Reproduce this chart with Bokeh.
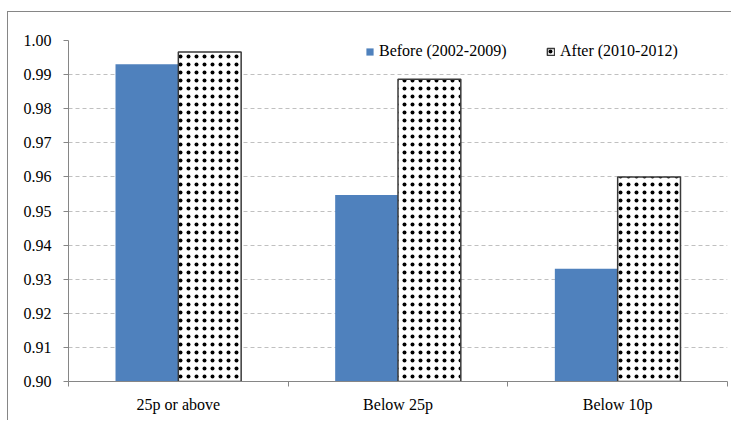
from bokeh.plotting import figure
from bokeh.models import (ColumnDataSource, Range1d, FixedTicker,
                          NumeralTickFormatter, Legend, LegendItem)
from bokeh.transform import dodge
from bokeh.embed import file_html
from bokeh.resources import INLINE

# Chart data
categories = ["25p or above", "Below 25p", "Below 10p"]
before = [0.9930, 0.9547, 0.9331]
after = [0.9966, 0.9886, 0.9600]
series_labels = ["Before (2002-2009)", "After (2010-2012)"]
y_ticks = [0.90, 0.91, 0.92, 0.93, 0.94, 0.95, 0.96, 0.97, 0.98, 0.99, 1.00]

FONT = "Liberation Serif"
AXIS_GREY = "#868686"

# category centres on a numeric axis, one unit per category
centres = [i + 0.5 for i in range(len(categories))]
bounds = list(range(len(categories) + 1))
source = ColumnDataSource(dict(x=centres, before=before, after=after))

p = figure(width=724, height=409,
           x_range=Range1d(0, len(categories)), y_range=Range1d(0.90, 1.00),
           output_backend="svg", toolbar_location=None,
           min_border_left=60, min_border_right=5,
           min_border_top=28, min_border_bottom=40,
           margin=(11, 0, 0, 7),
           styles={"border-left": f"1px solid {AXIS_GREY}",
                   "border-top": f"1px solid {AXIS_GREY}"})
p.outline_line_color = None
p.background_fill_color = "white"
p.border_fill_color = "white"

bar_w = 0.286
r_before = p.vbar(x=dodge("x", -bar_w / 2), top="before", bottom=0.90, width=bar_w,
                  source=source, fill_color="#4F81BD", line_color=None)
r_after = p.vbar(x=dodge("x", bar_w / 2), top="after", bottom=0.90, width=bar_w,
                 source=source, fill_color="white", line_color="#3a3a3a", line_width=1.5,
                 hatch_pattern="dot", hatch_color="black", hatch_scale=8,
                 hatch_weight=0.2)

# y axis
yax = p.yaxis[0]
yax.ticker = FixedTicker(ticks=y_ticks)
yax.formatter = NumeralTickFormatter(format="0.00")
yax.axis_line_color = AXIS_GREY
yax.major_tick_line_color = AXIS_GREY
yax.major_tick_out = 5
yax.major_tick_in = 0
yax.minor_tick_line_color = None
yax.major_label_text_font = FONT
yax.major_label_text_font_size = "16px"
yax.major_label_text_color = "black"
yax.major_label_standoff = 12

p.ygrid.ticker = FixedTicker(ticks=y_ticks)
p.ygrid.grid_line_color = "#c0c0c0"
p.ygrid.grid_line_dash = "4 3"
p.xgrid.grid_line_color = None

# x axis: names under each group, small ticks between groups
xax = p.xaxis[0]
xax.ticker = FixedTicker(ticks=centres, minor_ticks=bounds)
xax.major_label_overrides = {c: name for c, name in zip(centres, categories)}
xax.axis_line_color = AXIS_GREY
xax.major_tick_line_color = None
xax.major_tick_out = 0
xax.major_tick_in = 0
xax.minor_tick_line_color = AXIS_GREY
xax.minor_tick_out = 5
xax.minor_tick_in = 0
xax.major_label_text_font = FONT
xax.major_label_text_font_size = "16px"
xax.major_label_text_color = "black"
xax.major_label_standoff = 9

legend = Legend(items=[LegendItem(label=series_labels[0], renderers=[r_before]),
                       LegendItem(label=series_labels[1], renderers=[r_after])],
                orientation="horizontal", location=(297, 321),
                glyph_width=9, glyph_height=9, label_standoff=5,
                label_width=145, spacing=22, label_height=18,
                padding=6, margin=0, border_line_color=None,
                background_fill_color="white", background_fill_alpha=1.0,
                label_text_font=FONT, label_text_font_size="16px",
                label_text_color="black")
p.add_layout(legend)

open("out.html", "w").write(file_html(p, INLINE))
